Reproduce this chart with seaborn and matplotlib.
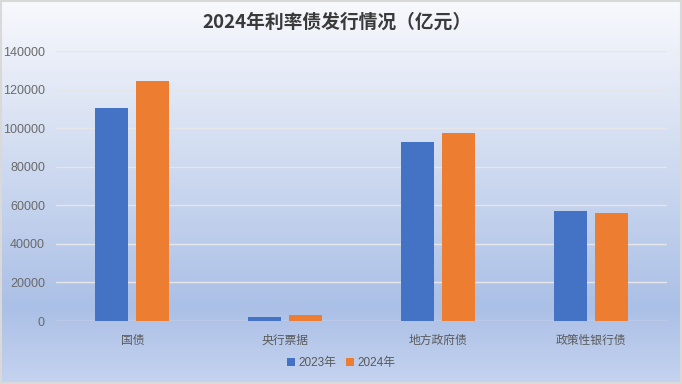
import matplotlib
matplotlib.use("Agg")
import matplotlib.pyplot as plt
import seaborn as sns
import numpy as np
import pandas as pd
from matplotlib.colors import LinearSegmentedColormap
from matplotlib.patches import Rectangle, Patch

categories = ["国债", "央行票据", "地方政府债", "政策性银行债"]
years = ["2023年", "2024年"]
values_2023 = [110500, 2200, 92800, 57100]
values_2024 = [124600, 3300, 97500, 56100]
yticks = [0, 20000, 40000, 60000, 80000, 100000, 120000, 140000]
title = "2024年利率债发行情况（亿元）"
colors = ["#4472C4", "#ED7D31"]

df = pd.DataFrame({
    "类别": categories * 2,
    "年份": [years[0]] * 4 + [years[1]] * 4,
    "值": values_2023 + values_2024,
})

sns.set_theme(style="white")
plt.rcParams["font.family"] = ["Liberation Sans", "Noto Sans CJK SC", "DejaVu Sans"]

fig = plt.figure(figsize=(6.82, 3.84), dpi=100)

# gradient background
bg = fig.add_axes([0, 0, 1, 1], zorder=-10)
cmap = LinearSegmentedColormap.from_list(
    "bg", [(0.0, "#f8f9fd"), (0.25, "#e0e7f5"), (0.8, "#abc0e6"), (1.0, "#c5d3ef")])
grad = np.linspace(0, 1, 256).reshape(-1, 1)
bg.imshow(grad, aspect="auto", cmap=cmap, extent=[0, 1, 1, 0])
bg.set_axis_off()
fig.patches.append(Rectangle((0.001, 0.002), 0.997, 0.995, transform=fig.transFigure,
                             fill=False, edgecolor="#d9d9d9", linewidth=1.5, zorder=10))

ax = fig.add_axes([0.0821, 0.164, 0.896, 0.703])
ax.set_facecolor("none")
sns.barplot(data=df, x="类别", y="值", hue="年份", palette=colors, width=0.537, gap=0.195,
            saturation=1, ax=ax, legend=False, zorder=3, linewidth=0, edgecolor="none")

ax.set_ylim(0, 140000)
ax.set_xlim(-0.5, 3.5)
ax.set_yticks(yticks)
ax.set_yticklabels([str(v) for v in yticks], fontsize=9, color="#6a6a6a")
ax.tick_params(axis="y", length=0, pad=8)
ax.tick_params(axis="x", length=0, pad=9)
for lab in ax.get_xticklabels():
    lab.set_fontfamily(["Noto Sans CJK SC", "DejaVu Sans"])
    lab.set_fontsize(8.5)
    lab.set_color("#595959")
ax.set_xlabel("")
ax.set_ylabel("")
for s in ax.spines.values():
    s.set_visible(False)
ax.yaxis.grid(True, color="#e4e6ea", linewidth=1, zorder=0)
ax.set_axisbelow(True)

fig.text(0.494, 0.943, title, ha="center", va="center", fontsize=13.5, fontweight="bold",
         color="#3a3a3a", family=["Noto Sans CJK SC", "DejaVu Sans"])

handles = [Patch(facecolor=c, edgecolor="none") for c in colors]
fig.legend(handles, years, loc="center", bbox_to_anchor=(0.5, 0.055), ncol=2, frameon=False,
           fontsize=8.5, handlelength=0.7, handleheight=0.7, handletextpad=0.3, columnspacing=0.8,
           labelcolor="#595959")

fig.savefig("out.png", dpi=100)
